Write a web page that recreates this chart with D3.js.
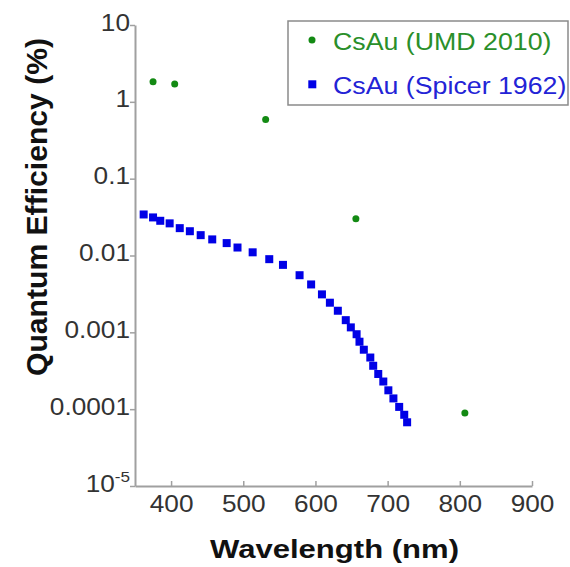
<!DOCTYPE html>
<html>
<head>
<meta charset="utf-8">
<script src="https://cdn.jsdelivr.net/npm/d3@7"></script>
<style>
  html, body { margin: 0; padding: 0; background: #fff; }
  svg { display: block; font-family: "Liberation Sans", Arial, Helvetica, sans-serif; }
</style>
</head>
<body>
<script>
// ---- data ----
const umdWavelength = [375, 405, 531, 656, 807];
const umdQE = [1.83, 1.71, 0.59, 0.030, 0.000089];

const spicerWavelength = [362, 375, 385, 398, 412, 426, 441, 457, 477, 492, 513, 536, 555, 578, 594, 609,
  620, 631, 642, 649, 657, 661, 667, 676, 680, 687, 694, 701, 708, 716, 723, 727];
const spicerQE = [0.0342, 0.0313, 0.0283, 0.0262, 0.0227, 0.0207, 0.0184, 0.0162, 0.0145, 0.0127, 0.0110,
  0.00896, 0.00755, 0.00554, 0.00420, 0.00312, 0.00243, 0.00191, 0.00144, 0.00116, 0.000945, 0.000755,
  0.000594, 0.000470, 0.000367, 0.000287, 0.000229, 0.000176, 0.000138, 0.000107, 0.0000845, 0.0000675];

const xTicks = [400, 500, 600, 700, 800, 900];
const yTicks = [10, 1, 0.1, 0.01, 0.001, 0.0001, 0.00001];
const yTickLabels = ["10", "1", "0.1", "0.01", "0.001", "0.0001", "10^-5"];

const seriesNames = ["CsAu (UMD 2010)", "CsAu (Spicer 1962)"];
const seriesColors = ["#138a13", "#0000e6"];
const legendTextColors = ["#2a8f2a", "#2323d6"];

// ---- chart ----
const W = 570, H = 567;
const svg = d3.select("body").append("svg").attr("width", W).attr("height", H);

const x = d3.scaleLinear().domain([350, 900]).range([135, 532]);
const y = d3.scaleLog().domain([1e-5, 10]).range([486, 25]);

const axisColor = "#a0a0a0";
const tickTextColor = "#333";
const stretch = 1.14;

// x axis
const gx = svg.append("g").attr("transform", "translate(0,486)")
  .call(d3.axisBottom(x).tickValues(xTicks).tickSizeInner(-5).tickSizeOuter(0).tickFormat(d3.format("d")));
gx.select(".domain").attr("stroke", axisColor).attr("stroke-width", 2);
gx.selectAll(".tick line").attr("stroke", axisColor).attr("stroke-width", 1.5);
gx.selectAll(".tick text")
  .attr("y", null).attr("dy", null)
  .attr("transform", `translate(0,26) scale(${stretch},1)`)
  .attr("font-size", 23).attr("fill", tickTextColor)
  .attr("font-family", "Liberation Sans, Arial, sans-serif");

// y axis
const gy = svg.append("g").attr("transform", "translate(135,0)")
  .call(d3.axisLeft(y).tickValues(yTicks).tickSizeInner(5).tickSizeOuter(0)
    .tickFormat(d => yTickLabels[yTicks.indexOf(d)]));
gy.select(".domain").attr("stroke", axisColor).attr("stroke-width", 2);
gy.selectAll(".tick line").attr("stroke", axisColor).attr("stroke-width", 1.5);
gy.selectAll(".tick text")
  .attr("x", null).attr("dy", null)
  .attr("text-anchor", "end")
  .attr("transform", `translate(-5,5) scale(${stretch},1)`)
  .attr("font-size", 23).attr("fill", tickTextColor)
  .attr("font-family", "Liberation Sans, Arial, sans-serif")
  .each(function(d) {
    const t = d3.select(this);
    const lab = t.text();
    if (lab.includes("^")) {
      const [base, exp] = lab.split("^");
      t.text(base);
      t.append("tspan").attr("dy", -10).attr("font-size", 15).text(exp);
    }
  });

// axis titles
svg.append("text")
  .attr("x", 334.5).attr("y", 558)
  .attr("text-anchor", "middle")
  .attr("font-weight", "bold").attr("font-size", 26)
  .attr("textLength", 249).attr("lengthAdjust", "spacingAndGlyphs")
  .attr("fill", "#111")
  .text("Wavelength (nm)");

svg.append("text")
  .attr("transform", "translate(47,207) rotate(-90)")
  .attr("text-anchor", "middle")
  .attr("font-weight", "bold").attr("font-size", 30)
  .attr("textLength", 338).attr("lengthAdjust", "spacingAndGlyphs")
  .attr("fill", "#111")
  .text("Quantum Efficiency (%)");

// data marks
svg.append("g").selectAll("circle")
  .data(umdWavelength.map((w, i) => ({ w, q: umdQE[i] })))
  .join("circle")
  .attr("cx", d => x(d.w)).attr("cy", d => y(d.q))
  .attr("r", 3.5).attr("fill", seriesColors[0]);

const sq = 8;
svg.append("g").selectAll("rect")
  .data(spicerWavelength.map((w, i) => ({ w, q: spicerQE[i] })))
  .join("rect")
  .attr("x", d => x(d.w) - sq / 2).attr("y", d => y(d.q) - sq / 2)
  .attr("width", sq).attr("height", sq).attr("fill", seriesColors[1]);

// legend
const lg = svg.append("g");
lg.append("rect").attr("x", 288).attr("y", 21).attr("width", 280).attr("height", 84)
  .attr("fill", "#fff").attr("stroke", "#8a8a8a").attr("stroke-width", 1.5);
lg.append("circle").attr("cx", 312).attr("cy", 40).attr("r", 3.5).attr("fill", seriesColors[0]);
lg.append("rect").attr("x", 312.3 - 4).attr("y", 84.3 - 4).attr("width", 8).attr("height", 8).attr("fill", seriesColors[1]);
[50, 94].forEach((by, i) => {
  lg.append("text")
    .attr("transform", `translate(333,${by}) scale(1.115,1)`)
    .attr("font-size", 24).attr("fill", legendTextColors[i])
    .text(seriesNames[i]);
});
</script>
</body>
</html>
